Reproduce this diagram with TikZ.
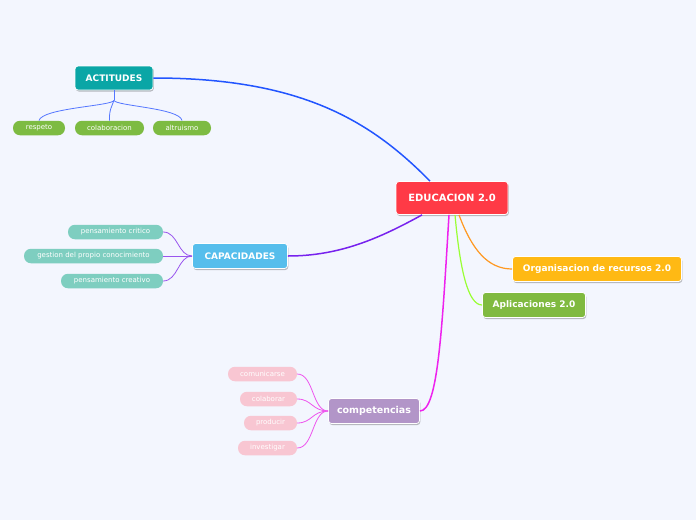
\documentclass[tikz,border=0pt]{standalone}
\usepackage{fontspec}
\setmainfont{DejaVu Sans}
\usetikzlibrary{shadows,calc}
\definecolor{bgc}{HTML}{F3F6FE}
\definecolor{cred}{HTML}{FF3A46}
\definecolor{cteal}{HTML}{0AA6A6}
\definecolor{cleaf}{HTML}{7DBB42}
\definecolor{cblue}{HTML}{56BEEC}
\definecolor{cmint}{HTML}{7ECEC0}
\definecolor{cpurp}{HTML}{B295C8}
\definecolor{cpink}{HTML}{F8C6D2}
\definecolor{corange}{HTML}{FFB914}
\definecolor{capp}{HTML}{80BA40}
\definecolor{eblue}{HTML}{2255FF}
\definecolor{eviolet}{HTML}{7722EE}
\definecolor{emag}{HTML}{EE22EE}
\definecolor{egreen}{HTML}{99FF33}
\definecolor{eorange}{HTML}{FF9922}
\definecolor{lblue}{HTML}{5577FF}
\definecolor{lviolet}{HTML}{9955EE}
\definecolor{lmag}{HTML}{EE55EE}
\tikzset{
  mainbox/.style={rectangle, rounded corners=3pt, draw=white, line width=0.8pt, text=white,
    font=\bfseries\fontsize{9}{10}\selectfont, inner sep=0pt,
    drop shadow={shadow xshift=0.8pt, shadow yshift=-1.5pt, fill=black, opacity=0.25}},
  leaf/.style={rectangle, rounded corners=7pt, text=white, inner sep=0pt,
    font=\fontsize{7}{8}\selectfont, minimum height=14.5pt},
  mainedge/.style={line width=1.5pt},
  subedge/.style={line width=0.8pt},
}
\begin{document}
\begin{tikzpicture}[x=1pt,y=-1pt]
\fill[bgc] (0,0) rectangle (696,520);
\useasboundingbox (0,0) rectangle (696,520);

% main nodes
\node[mainbox, fill=cred, minimum width=112pt, minimum height=33pt, font=\bfseries\fontsize{10}{11}\selectfont] (E) at (452,198) {EDUCACION 2.0};
\node[mainbox, fill=cteal, minimum width=78pt, minimum height=24pt] (A) at (114,78) {ACTITUDES};
\node[mainbox, fill=cblue, minimum width=95pt, minimum height=25pt] (C) at (240,256) {CAPACIDADES};
\node[mainbox, fill=cpurp, minimum width=91pt, minimum height=25pt, font=\bfseries\fontsize{9.5}{10}\selectfont] (P) at (374,411) {competencias};
\node[mainbox, fill=corange, minimum width=169pt, minimum height=25pt] (O) at (597,269) {Organisacion de recursos 2.0};
\node[mainbox, fill=capp, minimum width=103pt, minimum height=25pt] (L) at (534,305) {Aplicaciones 2.0};

% leaves
\node[leaf, fill=cleaf, minimum width=52pt] (a1) at (39,128) {respeto};
\node[leaf, fill=cleaf, minimum width=69pt] (a2) at (109.5,128) {colaboracion};
\node[leaf, fill=cleaf, minimum width=58pt] (a3) at (182,128) {altruismo};

\node[leaf, fill=cmint, minimum width=95pt] (c1) at (115.5,232) {pensamiento critico};
\node[leaf, fill=cmint, minimum width=139pt] (c2) at (93.5,256) {gestion del propio conocimiento};
\node[leaf, fill=cmint, minimum width=102pt] (c3) at (112,281) {pensamiento creativo};

\node[leaf, fill=cpink, minimum width=69pt] (p1) at (262.5,374) {comunicarse};
\node[leaf, fill=cpink, minimum width=57pt] (p2) at (268.5,399) {colaborar};
\node[leaf, fill=cpink, minimum width=53pt] (p3) at (270.5,423) {producir};
\node[leaf, fill=cpink, minimum width=59pt] (p4) at (267.5,448) {investigar};

% anchor coordinates on central node
\coordinate (eA) at ($(E.north)+(-22,0)$);
\coordinate (eC) at ($(E.south)+(-30,0)$);
\coordinate (eP) at ($(E.south)+(-3,0)$);
\coordinate (eL) at ($(E.south)+(3,0)$);
\coordinate (eO) at ($(E.south)+(7,0)$);
\coordinate (aH) at ($(A.south)+(0,10)$);

% main edges
\draw[mainedge, eblue] (A.east) .. controls (300,78) and (370,120) .. (eA);
\draw[mainedge, eviolet] (C.east) .. controls (340,256) and (380,238) .. (eC);
\draw[mainedge, emag] (eP) .. controls (442,330) and (438,411) .. (P.east);
\draw[line width=1.2pt, egreen] (eL) .. controls (460,270) and (468,305) .. (L.west);
\draw[line width=1.2pt, eorange] (eO) .. controls (472,250) and (488,269) .. (O.west);

% sub edges ACTITUDES
\draw[subedge, lblue] (A.south) -- (aH);
\draw[subedge, lblue] (aH) .. controls (112,106) and (42,108) .. (a1.north);
\draw[subedge, lblue] (aH) .. controls (112,106) and (109,110) .. (a2.north);
\draw[subedge, lblue] (aH) .. controls (116,106) and (180,108) .. (a3.north);

% sub edges CAPACIDADES
\draw[subedge, lviolet] (C.west) .. controls (178,256) and (178,232) .. (c1.east);
\draw[subedge, lviolet] (C.west) -- (c2.east);
\draw[subedge, lviolet] (C.west) .. controls (178,256) and (178,281) .. (c3.east);

% sub edges competencias
\draw[subedge, lmag] (P.west) .. controls (312,411) and (314,374) .. (p1.east);
\draw[subedge, lmag] (P.west) .. controls (312,411) and (312,399) .. (p2.east);
\draw[subedge, lmag] (P.west) .. controls (312,411) and (312,423) .. (p3.east);
\draw[subedge, lmag] (P.west) .. controls (312,411) and (314,448) .. (p4.east);
\end{tikzpicture}
\end{document}
